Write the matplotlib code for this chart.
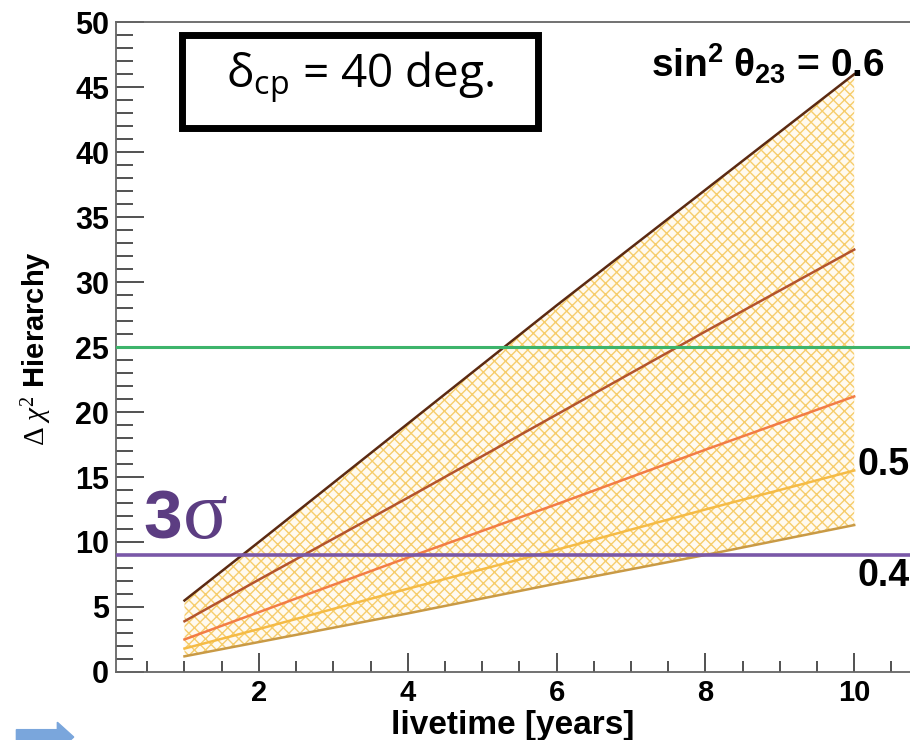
import matplotlib
matplotlib.use("Agg")
import matplotlib.pyplot as plt
from matplotlib.ticker import MultipleLocator
from matplotlib.patches import FancyArrow, Rectangle

plt.rcParams['mathtext.fontset'] = 'custom'
plt.rcParams['mathtext.rm'] = 'Liberation Serif'
plt.rcParams['mathtext.it'] = 'Liberation Serif:italic'
plt.rcParams['mathtext.bf'] = 'Liberation Sans:bold'
plt.rcParams['hatch.linewidth'] = 1.0

# livetime in years and delta chi^2 for each sin^2(theta23) curve
years = [1, 2, 4, 6, 8, 10]
chi_06 = [5.5, 10.0, 19.1, 28.2, 37.1, 46.0]
chi_055 = [3.9, 7.1, 13.4, 19.8, 26.2, 32.5]
chi_05a = [2.5, 4.6, 8.8, 12.9, 17.1, 21.2]
chi_05 = [1.8, 3.3, 6.4, 9.4, 12.5, 15.5]
chi_04 = [1.2, 2.3, 4.5, 6.8, 9.0, 11.3]

curves = [chi_06, chi_055, chi_05a, chi_05, chi_04]
colors = ['#5b2a12', '#b4542c', '#f27c45', '#f5bb45', '#c99a45']

five_sigma = 25
three_sigma = 9

fig = plt.figure(figsize=(9.1, 7.4), dpi=100)
ax = fig.add_axes([0.1275, 0.092, 0.8725, 0.878])

# hatched band between the lowest and highest curve
ax.fill_between(years, chi_04, chi_06, facecolor='#fffaf0', edgecolor='#f6cd6c',
                hatch='xxx', linewidth=0, zorder=1)

for c, col in zip(curves, colors):
    ax.plot(years, c, color=col, lw=1.8, zorder=3)

ax.axhline(five_sigma, color='#3db46b', lw=2.2, zorder=4)
ax.axhline(three_sigma, color='#7a58a8', lw=2.6, zorder=4)

ax.set_xlim(0.08, 10.75)
ax.set_ylim(0, 50)

ax.spines['right'].set_visible(False)
for s in ['left', 'bottom', 'top']:
    ax.spines[s].set_color('#666666')
    ax.spines[s].set_linewidth(1.3)

ax.xaxis.set_major_locator(MultipleLocator(2))
ax.xaxis.set_minor_locator(MultipleLocator(0.5))
ax.yaxis.set_major_locator(MultipleLocator(5))
ax.yaxis.set_minor_locator(MultipleLocator(1))
ax.tick_params(axis='both', which='both', direction='in', color='#333333', width=1.2)
ax.tick_params(axis='y', which='major', length=20, labelsize=22, pad=5)
ax.tick_params(axis='y', which='minor', length=12)
ax.tick_params(axis='x', which='major', length=14, labelsize=21, pad=5)
ax.tick_params(axis='x', which='minor', length=8)
for lab in ax.get_xticklabels() + ax.get_yticklabels():
    lab.set_fontfamily('Liberation Sans')
    lab.set_fontweight('bold')

ax.set_xlabel('livetime [years]', fontsize=24, fontweight='bold',
              family='Liberation Sans', va='center')
ax.xaxis.set_label_coords(0.5, -0.083)
ax.set_ylabel(r'$\Delta\ \chi^{2}$ Hierarchy', fontsize=21, fontweight='bold',
              family='Liberation Sans', va='center')
ax.yaxis.set_label_coords(-0.1, 0.498)

# annotations
ax.text(0.45, 10.3, '3', color='#5c3d82', fontsize=50, fontweight='bold',
        family='Liberation Sans', zorder=5)
ax.text(0.98, 10.3, 'σ', color='#5c3d82', fontsize=60,
        family='Liberation Serif', zorder=5)

ax.text(0.968, 0.914, r'$\mathdefault{sin^{2}\ θ_{23}}$ = 0.6', transform=ax.transAxes,
        ha='right', va='baseline', fontsize=28, fontweight='bold', family='Liberation Sans')
ytx = ax.get_yaxis_transform()
ax.text(1.0, 15.9, '0.5', transform=ytx, ha='right', va='center', fontsize=27,
        fontweight='bold', family='Liberation Sans')
ax.text(1.0, 7.4, '0.4', transform=ytx, ha='right', va='center', fontsize=27,
        fontweight='bold', family='Liberation Sans')

# boxed delta_cp label
fig.patches.append(Rectangle((0.2, 0.827), 0.391, 0.1257, facecolor='white',
                             edgecolor='black', linewidth=5,
                             transform=fig.transFigure, figure=fig, zorder=5))
fig.text(0.3956, 0.8824, r'$\mathdefault{δ_{cp}}$ = 40 deg.', ha='center',
         va='baseline', fontsize=33, family='Open Sans', zorder=6)

fig.patches.append(FancyArrow(0.018, 0.004, 0.045, 0, width=0.02, head_width=0.04,
                              head_length=0.018, color='#7aa6dc',
                              transform=fig.transFigure, figure=fig))

fig.savefig('out.png', dpi=100)
